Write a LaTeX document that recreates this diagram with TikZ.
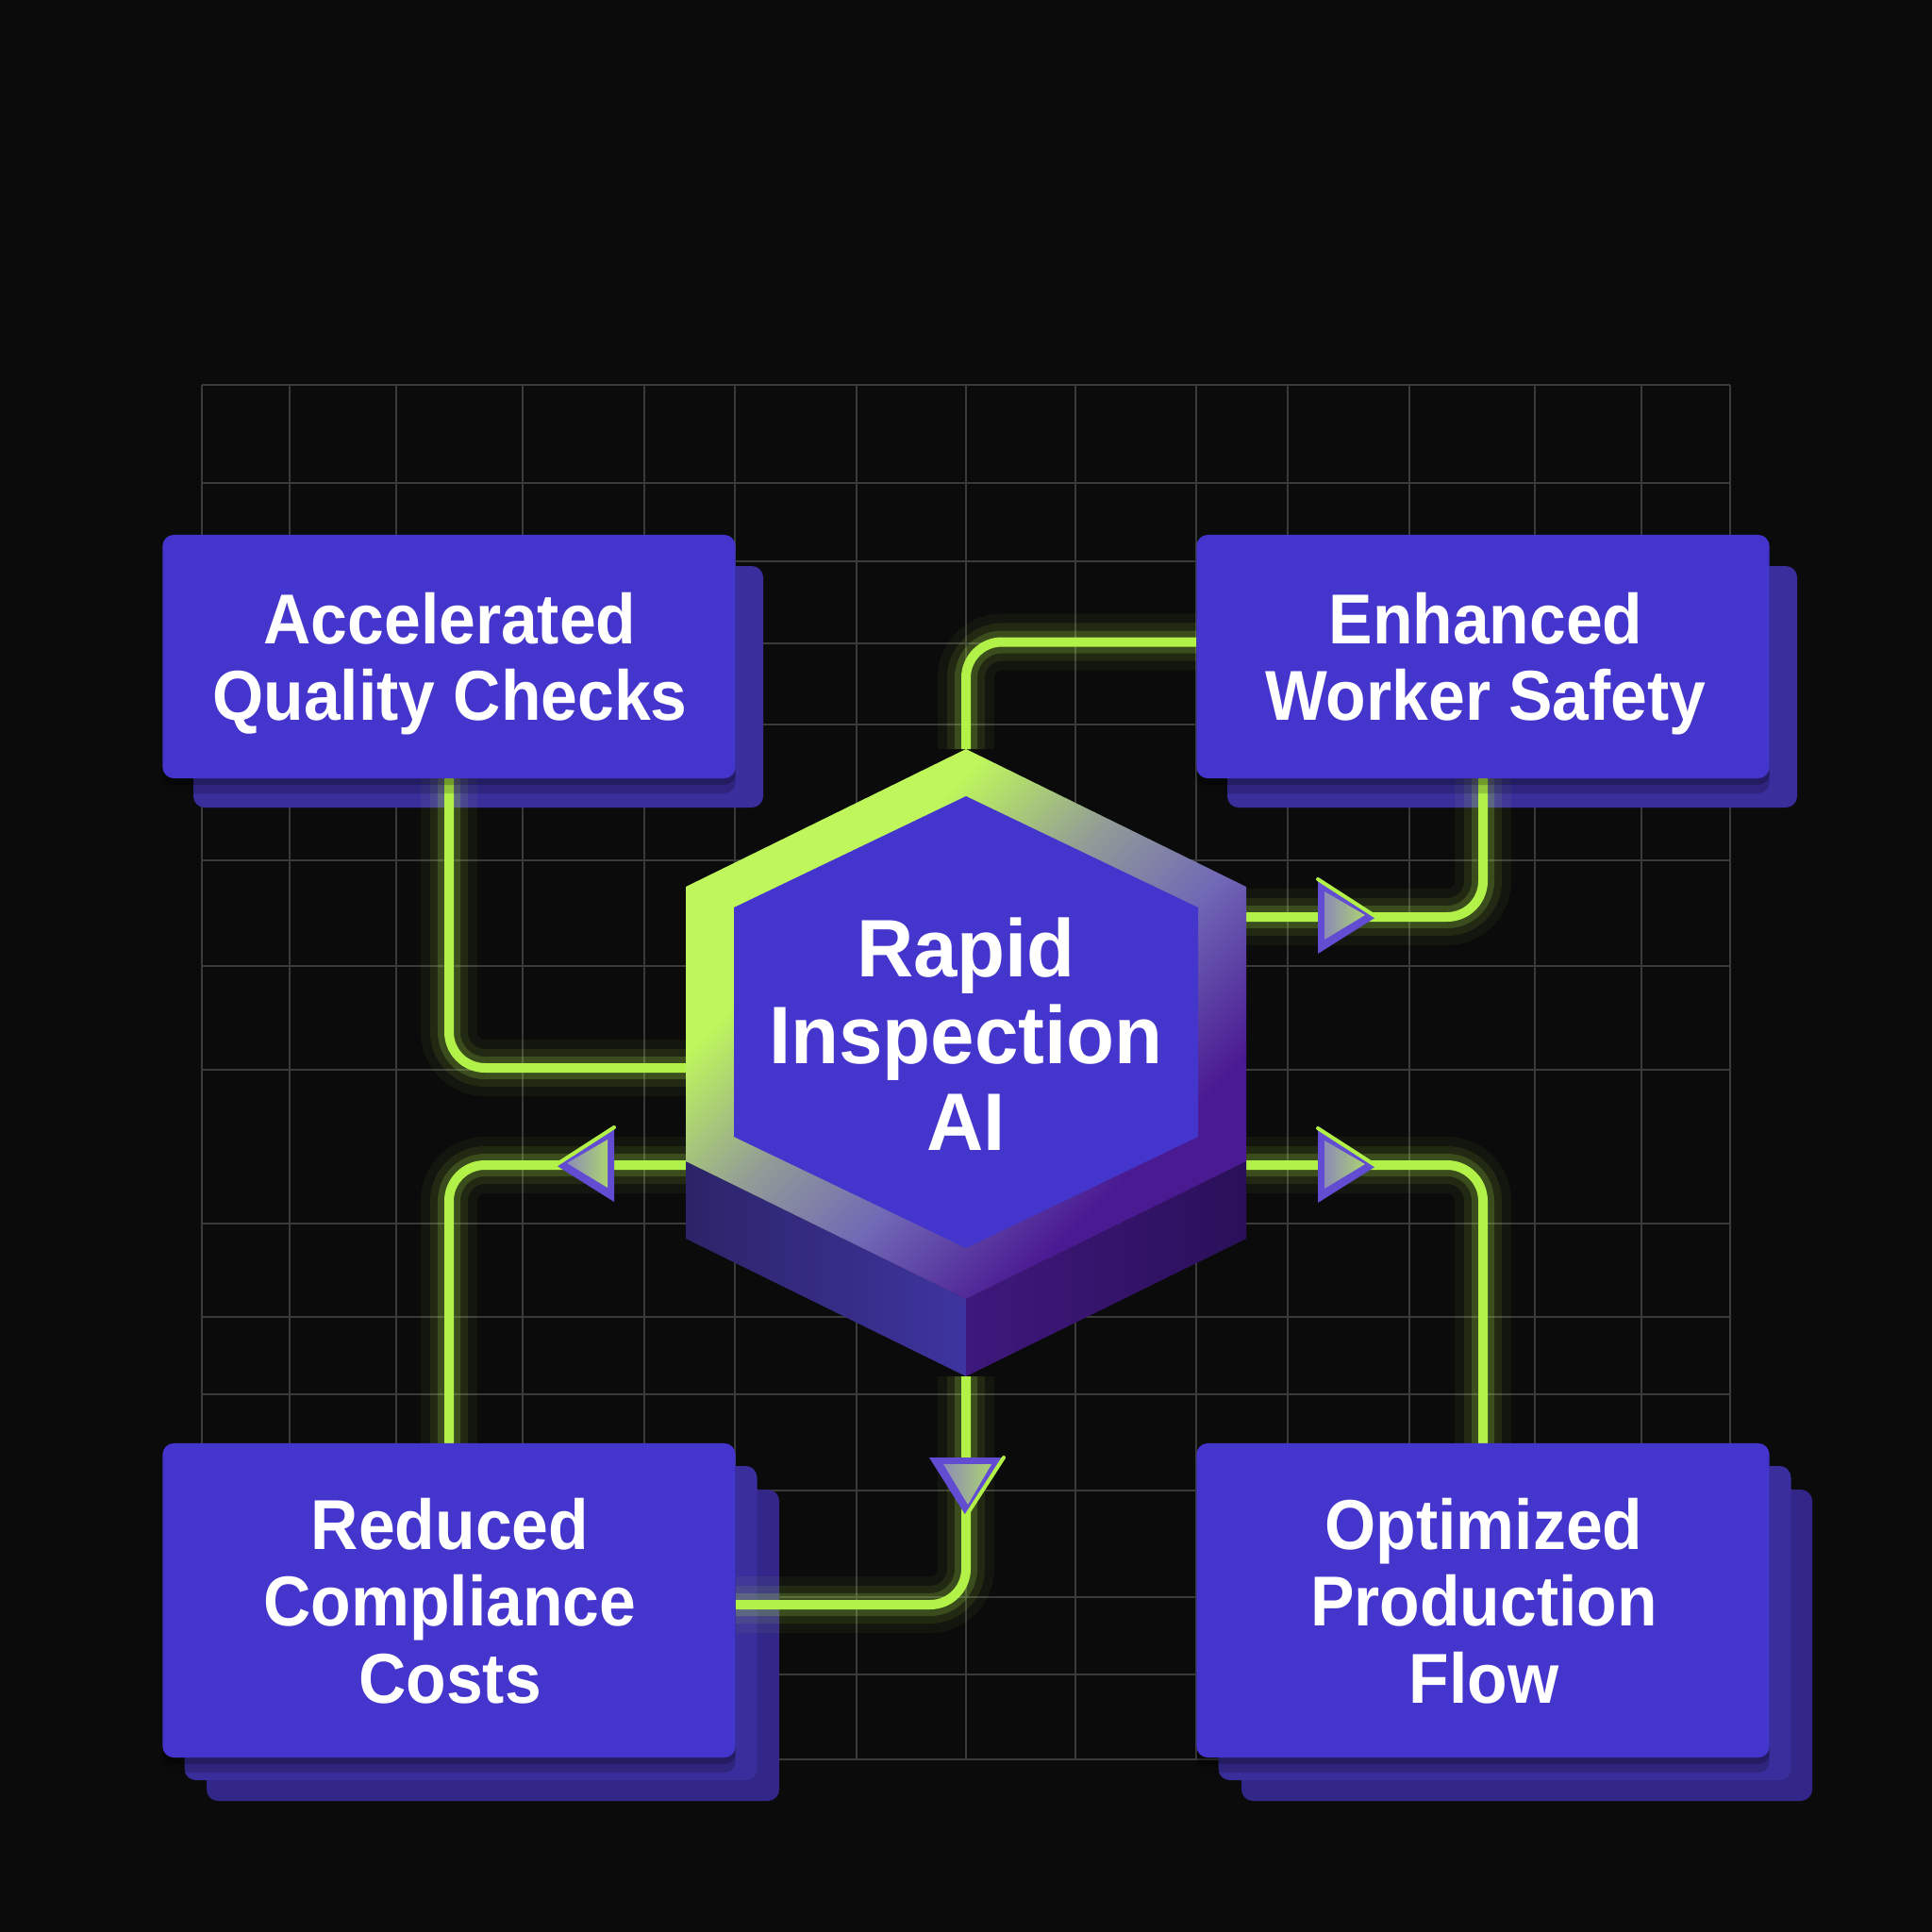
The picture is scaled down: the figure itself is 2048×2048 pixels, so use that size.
\documentclass[tikz,border=0pt]{standalone}
\usepackage{fontspec}
\newfontfamily\boxfont{Liberation Sans}[FakeStretch=0.93]
\newfontfamily\hexfont{Liberation Sans}[FakeStretch=0.965]
\usetikzlibrary{calc}
\definecolor{bgc}{RGB}{11,11,11}
\definecolor{gridc}{RGB}{58,58,58}
\definecolor{boxc}{RGB}{68,54,204}
\definecolor{cardA}{RGB}{58,46,156}
\definecolor{cardB}{RGB}{50,39,136}
\definecolor{lime}{RGB}{178,242,72}
\definecolor{ringA}{RGB}{190,246,92}
\definecolor{ringB}{RGB}{146,156,150}
\definecolor{ringD}{RGB}{112,104,182}
\definecolor{ringC}{RGB}{74,26,146}
\definecolor{faceLa}{RGB}{44,36,104}
\definecolor{faceLb}{RGB}{62,52,160}
\definecolor{faceRa}{RGB}{62,24,124}
\definecolor{faceRb}{RGB}{42,16,90}
\definecolor{arrP}{RGB}{98,76,210}
\definecolor{arrGa}{RGB}{140,140,182}
\definecolor{arrGb}{RGB}{172,212,112}
\pgfdeclarehorizontalshading{ringsh}{100bp}{color(0bp)=(ringA); color(34bp)=(ringA); color(46bp)=(ringB); color(57bp)=(ringD); color(70bp)=(ringC); color(100bp)=(ringC)}
\pgfdeclarelayer{bgl}
\pgfdeclarelayer{cnl}
\pgfsetlayers{bgl,cnl,main}
\tikzset{
  gridline/.style={draw=gridc, line width=0.025cm},
  mainbox/.style={fill=boxc, rounded corners=0.12cm, minimum width=6.07cm, inner sep=0pt, outer sep=0pt,
    preaction={fill=black, fill opacity=0.22, transform canvas={yshift=-0.07cm}},
    preaction={fill=black, fill opacity=0.18, transform canvas={yshift=-0.16cm}}},
  boxlabel/.style={text=white, align=center, inner sep=0pt, font=\boxfont\bfseries\fontsize{21.3pt}{23.25pt}\selectfont},
  hexlabel/.style={text=white, align=center, inner sep=0pt, font=\hexfont\bfseries\fontsize{24.6pt}{26.2pt}\selectfont},
  cardone/.style={fill=cardA, rounded corners=0.12cm},
  cardtwo/.style={fill=cardB, rounded corners=0.12cm},
  conn/.style={draw=lime, line width=0.1cm, rounded corners=0.38cm,
    preaction={draw=lime, line width=0.6cm, draw opacity=0.05},
    preaction={draw=lime, line width=0.4cm, draw opacity=0.09},
    preaction={draw=lime, line width=0.24cm, draw opacity=0.18}},
  triouter/.style={fill=arrP},
  triinner/.style={left color=arrGa, right color=arrGb},
  triedge/.style={draw=lime, line width=0.04cm, line cap=round},
}
\newcommand{\flowtri}[4]{%
  \begin{scope}[shift={(#1,#2)}, rotate=#3, xscale=#4]
    \fill[triouter] (0,-40) -- (62,0) -- (0,39) -- cycle;
    \shade[triinner] (7,-27) -- (50,-2) -- (7,24) -- cycle;
    \draw[triedge] (0,-40) -- (62,0);
  \end{scope}}
\begin{document}
\begin{tikzpicture}[x=0.01cm,y=-0.01cm]
\useasboundingbox (0,0) rectangle (2048,2048);
% main boxes
\node[mainbox, minimum height=2.58cm] (tl) at (476,696) {};
\node[mainbox, minimum height=2.58cm] (tr) at (1572,696) {};
\node[mainbox, minimum height=3.33cm] (bl) at (476,1696.5) {};
\node[mainbox, minimum height=3.33cm] (br) at (1572,1696.5) {};
\node[boxlabel] (tlt) at (477,703.6) {Accelerated\\Quality Checks};
\node[boxlabel] (trt) at (1575,703.6) {Enhanced\\Worker Safety};
\node[boxlabel] (blt) at (477,1697) {Reduced\\Compliance\\Costs};
\node[boxlabel] (brt) at (1573,1697) {Optimized\\Production\\Flow};
\begin{pgfonlayer}{bgl}
  \fill[bgc] (0,0) rectangle (2048,2048);
  \foreach \gx in {214,307,420,554,683,779,908,1024,1140,1268,1365,1494,1627,1740,1834}
    \draw[gridline] (\gx,408) -- (\gx,1865);
  \foreach \gy in {408,512,595,682,768,912,1024,1134,1297,1396,1478,1580,1693,1775,1865}
    \draw[gridline] (214,\gy) -- (1834,\gy);
  \fill[cardone] (205,600) rectangle (809,856);
  \fill[cardone] (1301,600) rectangle (1905,856);
  \fill[cardtwo] (219,1579) rectangle (826,1909);
  \fill[cardone] (195.5,1554) rectangle (802.5,1887);
  \fill[cardtwo] (1316,1579) rectangle (1921,1909);
  \fill[cardone] (1291.5,1554) rectangle (1898.5,1887);
\end{pgfonlayer}
\begin{pgfonlayer}{cnl}
  \coordinate (hT) at (1024,794);
  \coordinate (hUL) at (727,940);
  \coordinate (hUR) at (1321,940);
  \coordinate (hLL) at (727,1231);
  \coordinate (hLR) at (1321,1231);
  \coordinate (hB) at (1024,1377);
  \coordinate (hLLb) at (727,1313);
  \coordinate (hLRb) at (1321,1313);
  \coordinate (hBb) at (1024,1459);
  \coordinate (cLa) at (727,1132);
  \coordinate (cRa) at (1321,972);
  \coordinate (cLb) at (727,1235);
  \coordinate (cRb) at (1321,1235);
  \draw[conn] (tl.south) |- (cLa);
  \draw[conn] (hT) |- ($(tr.west)+(0,-15.5)$);
  \draw[conn] (cRa) -| (tr.south);
  \draw[conn] (cLb) -| (bl.north);
  \draw[conn] (cRb) -| (br.north);
  \draw[conn] (hBb) |- ($(bl.east)+(0,4.5)$);
  % hexagon
  \shade[left color=faceLa, right color=faceLb] (hLL) -- (hB) -- (hBb) -- (hLLb) -- cycle;
  \shade[left color=faceRa, right color=faceRb] (hB) -- (hLR) -- (hLRb) -- (hBb) -- cycle;
  \shade[shading=ringsh, shading angle=-45] (hT) -- (hUR) -- (hLR) -- (hB) -- (hLL) -- (hUL) -- cycle;
  \fill[boxc] (1024,844) -- (1270,962) -- (1270,1205) -- (1024,1323) -- (778,1205) -- (778,962) -- cycle;
  \node[hexlabel] (hext) at (1024,1096) {Rapid\\Inspection\\AI};
  % arrowheads
  \flowtri{1397}{972}{0}{1}
  \flowtri{1397}{1236}{0}{1}
  \flowtri{651}{1235}{0}{-1}
  \flowtri{1024}{1545}{-90}{1}
\end{pgfonlayer}
\end{tikzpicture}
\end{document}
